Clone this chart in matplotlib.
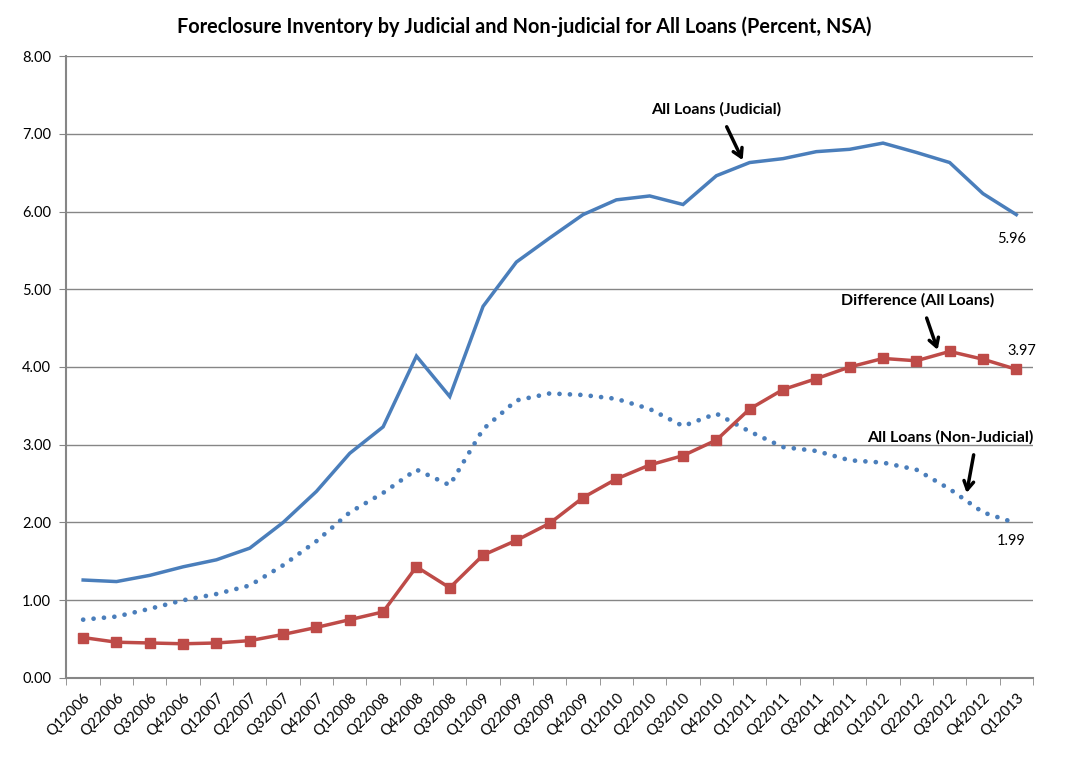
import matplotlib
matplotlib.use("Agg")
import matplotlib.pyplot as plt
import numpy as np

quarters = ["Q12006", "Q22006", "Q32006", "Q42006", "Q12007", "Q22007", "Q32007", "Q42007",
            "Q12008", "Q22008", "Q42008", "Q32008", "Q12009", "Q22009", "Q32009", "Q42009",
            "Q12010", "Q22010", "Q32010", "Q42010", "Q12011", "Q22011", "Q32011", "Q42011",
            "Q12012", "Q22012", "Q32012", "Q42012", "Q12013"]

judicial = [1.26, 1.24, 1.32, 1.43, 1.52, 1.67, 2.00, 2.40, 2.89, 3.23, 4.14, 3.62,
            4.78, 5.35, 5.66, 5.96, 6.15, 6.20, 6.09, 6.46, 6.63, 6.68, 6.77, 6.80,
            6.88, 6.76, 6.63, 6.23, 5.96]
non_judicial = [0.75, 0.79, 0.89, 1.00, 1.08, 1.19, 1.45, 1.76, 2.13, 2.38, 2.68, 2.48,
                3.20, 3.57, 3.66, 3.64, 3.59, 3.46, 3.24, 3.40, 3.17, 2.97, 2.92, 2.80,
                2.77, 2.68, 2.43, 2.13, 1.99]
difference = [0.52, 0.46, 0.45, 0.44, 0.45, 0.48, 0.56, 0.65, 0.75, 0.85, 1.43, 1.16,
              1.58, 1.77, 1.99, 2.32, 2.56, 2.74, 2.86, 3.06, 3.46, 3.71, 3.85, 4.00,
              4.11, 4.08, 4.20, 4.10, 3.97]

yticks = [0, 1, 2, 3, 4, 5, 6, 7, 8]

plt.rcParams['font.family'] = ['Lato', 'DejaVu Sans']

BLUE = "#4A7EBB"
RED = "#BE4B48"
GRID = "#868686"

fig = plt.figure(figsize=(10.69, 7.57), dpi=100)
ax = fig.add_axes([0.0622, 0.1044, 0.9041, 0.8216])

x = np.arange(len(quarters))

ax.plot(x, judicial, color=BLUE, lw=2.5, solid_joinstyle='miter', zorder=3)
ax.plot(x, non_judicial, color=BLUE, lw=3.4, linestyle=(0, (0.01, 2.2)),
        dash_capstyle='round', zorder=3)
ax.plot(x, difference, color=RED, lw=2.5, marker='s', markersize=6.5,
        markerfacecolor=RED, markeredgecolor=RED, zorder=4)

ax.set_xlim(-0.5, len(quarters) - 0.5)
ax.set_ylim(0, 8)
ax.set_yticks(yticks)
ax.set_yticklabels([f"{v:.2f}" for v in yticks], fontsize=10.5)
ax.grid(axis='y', color=GRID, lw=1.0, zorder=0)
ax.set_axisbelow(True)

ax.set_xticks(x)
ax.set_xticklabels(quarters, rotation=45, ha='right', va='top', rotation_mode='anchor',
                   fontsize=10.5)
ax.tick_params(axis='x', which='major', length=0, pad=9)
ax.set_xticks(np.arange(-0.5, len(quarters)), minor=True)
ax.tick_params(axis='x', which='minor', length=5, color=GRID, direction='out')
ax.tick_params(axis='y', length=5, color=GRID, direction='out', pad=6)

for s in ['top', 'right']:
    ax.spines[s].set_visible(False)
for s in ['left', 'bottom']:
    ax.spines[s].set_color(GRID)
    ax.spines[s].set_linewidth(1.5)

fig.suptitle("Foreclosure Inventory by Judicial and Non-judicial for All Loans (Percent, NSA)",
             x=0.49, y=0.978, fontsize=14.3, fontweight='bold')

arrow = dict(arrowstyle='->,head_length=0.6,head_width=0.35', color='black', lw=2.5,
             shrinkA=0, shrinkB=0)
ax.annotate("", xy=(19.79, 6.66), xytext=(19.31, 7.09), arrowprops=arrow)
ax.text(18.98, 7.31, "All Loans (Judicial)", ha='center', va='center',
        fontsize=11.5, fontweight='bold')
ax.annotate("", xy=(25.64, 4.22), xytext=(25.31, 4.63), arrowprops=arrow)
ax.text(25.04, 4.86, "Difference (All Loans)", ha='center', va='center',
        fontsize=11.5, fontweight='bold')
ax.annotate("", xy=(26.51, 2.38), xytext=(26.72, 2.87), arrowprops=arrow)
ax.text(26.03, 3.09, "All Loans (Non-Judicial)", ha='center', va='center',
        fontsize=11.5, fontweight='bold')

last = len(quarters) - 1
ax.annotate(f"{judicial[last]:.2f}", xy=(last, judicial[last]), xytext=(-5, -24),
            textcoords='offset pixels', ha='center', va='center', fontsize=10.5)
ax.annotate(f"{difference[last]:.2f}", xy=(last, difference[last]), xytext=(6, 18),
            textcoords='offset pixels', ha='center', va='center', fontsize=10.5)
ax.annotate(f"{non_judicial[last]:.2f}", xy=(last, non_judicial[last]), xytext=(-5, -18),
            textcoords='offset pixels', ha='center', va='center', fontsize=10.5)

fig.savefig("out.png", dpi=100)
